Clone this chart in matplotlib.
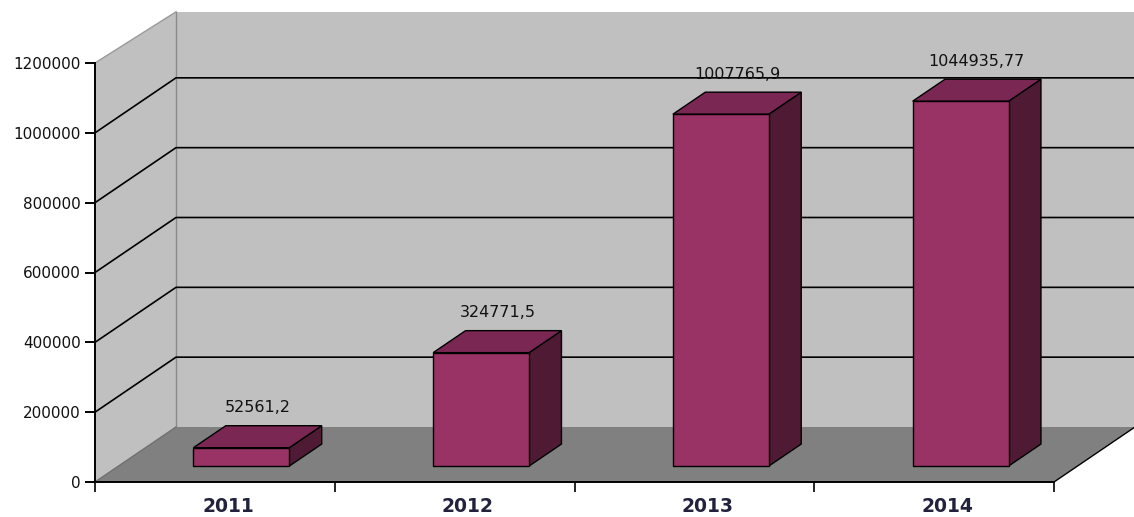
import matplotlib
matplotlib.use("Agg")
import matplotlib.pyplot as plt
from matplotlib.patches import Polygon

# ---- data ----
years = ["2011", "2012", "2013", "2014"]
values = [52561.2, 324771.5, 1007765.9, 1044935.77]
value_labels = ["52561,2", "324771,5", "1007765,9", "1044935,77"]
yticks = [0, 200000, 400000, 600000, 800000, 1000000, 1200000]

# ---- style / geometry ----
YMAX = 1200000
NCAT = len(years)
DX = 81 / 239.75            # depth offset in category units
DY = 55 / 419 * YMAX        # depth offset in value units
F0, F1 = 0.29, 0.69         # bar front / back depth fractions
BSHIFT = 3 / 239.75         # small extra horizontal shift of bars
BW = 0.4                    # bar width (category units)
FRONT = "#993366"
TOP = "#7a2753"
SIDE = "#4e1a34"
WALL = "#c0c0c0"
FLOOR = "#808080"

fig = plt.figure(figsize=(11.34, 5.17), dpi=100)
ax = fig.add_axes([95 / 1134, 35 / 517, 959 / 1134, 419 / 517])
ax.set_xlim(0, NCAT)
ax.set_ylim(0, YMAX)
ax.patch.set_visible(False)
for s in ("top", "right"):
    ax.spines[s].set_visible(False)
for s in ("left", "bottom"):
    ax.spines[s].set_linewidth(1.4)
    ax.spines[s].set_zorder(10)

def poly(pts, fc, ec="none", lw=0, z=1):
    p = Polygon(pts, closed=True, facecolor=fc, edgecolor=ec, linewidth=lw,
                clip_on=False, zorder=z, joinstyle="miter")
    ax.add_patch(p)

TOPY = YMAX + DY * 0.93
# walls and floor
poly([(DX, DY), (NCAT + DX, DY), (NCAT + DX, TOPY), (DX, TOPY)], WALL, z=0)
poly([(0, 0), (DX, DY), (DX, TOPY), (0, YMAX)], WALL, z=0)
poly([(0, 0), (NCAT, 0), (NCAT + DX, DY), (DX, DY)], FLOOR, z=0.5)

# edges
ax.plot([DX, DX], [DY, TOPY], color="#8a8a8a", lw=1, clip_on=False, zorder=1)
ax.plot([0, DX], [YMAX, TOPY], color="#9a9a9a", lw=1, clip_on=False, zorder=1)
ax.plot([0, DX], [0, DY], color="#707070", lw=1, clip_on=False, zorder=1)
ax.plot([NCAT, NCAT + DX], [0, DY], color="black", lw=1, clip_on=False, zorder=1)

# gridlines
for v in yticks[1:-1]:
    ax.plot([0, DX, NCAT + DX], [v, v + DY, v + DY], color="black", lw=1.2,
            clip_on=False, zorder=1)

# bars
for i, (v, lab) in enumerate(zip(values, value_labels)):
    x0 = i + (1 - BW) / 2 + BSHIFT
    x1 = x0 + BW
    fx, fy = F0 * DX, F0 * DY
    bx, by = F1 * DX, F1 * DY
    # side face
    poly([(x1 + fx, fy), (x1 + bx, by), (x1 + bx, v + by), (x1 + fx, v + fy)],
         SIDE, "black", 1, z=3)
    # top face
    poly([(x0 + fx, v + fy), (x1 + fx, v + fy), (x1 + bx, v + by), (x0 + bx, v + by)],
         TOP, "black", 1, z=3)
    # front face
    poly([(x0 + fx, fy), (x1 + fx, fy), (x1 + fx, v + fy), (x0 + fx, v + fy)],
         FRONT, "black", 1, z=4)
    cx = (x0 + x1) / 2 + (fx + bx) / 2
    ax.annotate(lab, xy=(cx, v + by), xytext=(0, 18), textcoords="offset pixels",
                ha="center", va="center", fontsize=11.5, family="DejaVu Sans",
                color="#111111", zorder=6, annotation_clip=False)

# axes ticks
ax.set_yticks(yticks)
ax.set_yticklabels([str(t) for t in yticks], fontsize=11, family="DejaVu Sans",
                   color="#111111")
ax.tick_params(axis="y", length=7, width=1.4, pad=3, direction="out")
ax.set_xticks(range(NCAT + 1))
ax.set_xticklabels([])
ax.tick_params(axis="x", length=7, width=1.2, direction="out")

for i, yr in enumerate(years):
    ax.annotate(yr, xy=(i + 0.5, 0), xytext=(13, -25), textcoords="offset pixels",
                ha="center", va="center", fontsize=13.5, fontweight="bold",
                family="DejaVu Sans", color="#22223c", annotation_clip=False)

fig.savefig("out.png", dpi=100, facecolor="white")
